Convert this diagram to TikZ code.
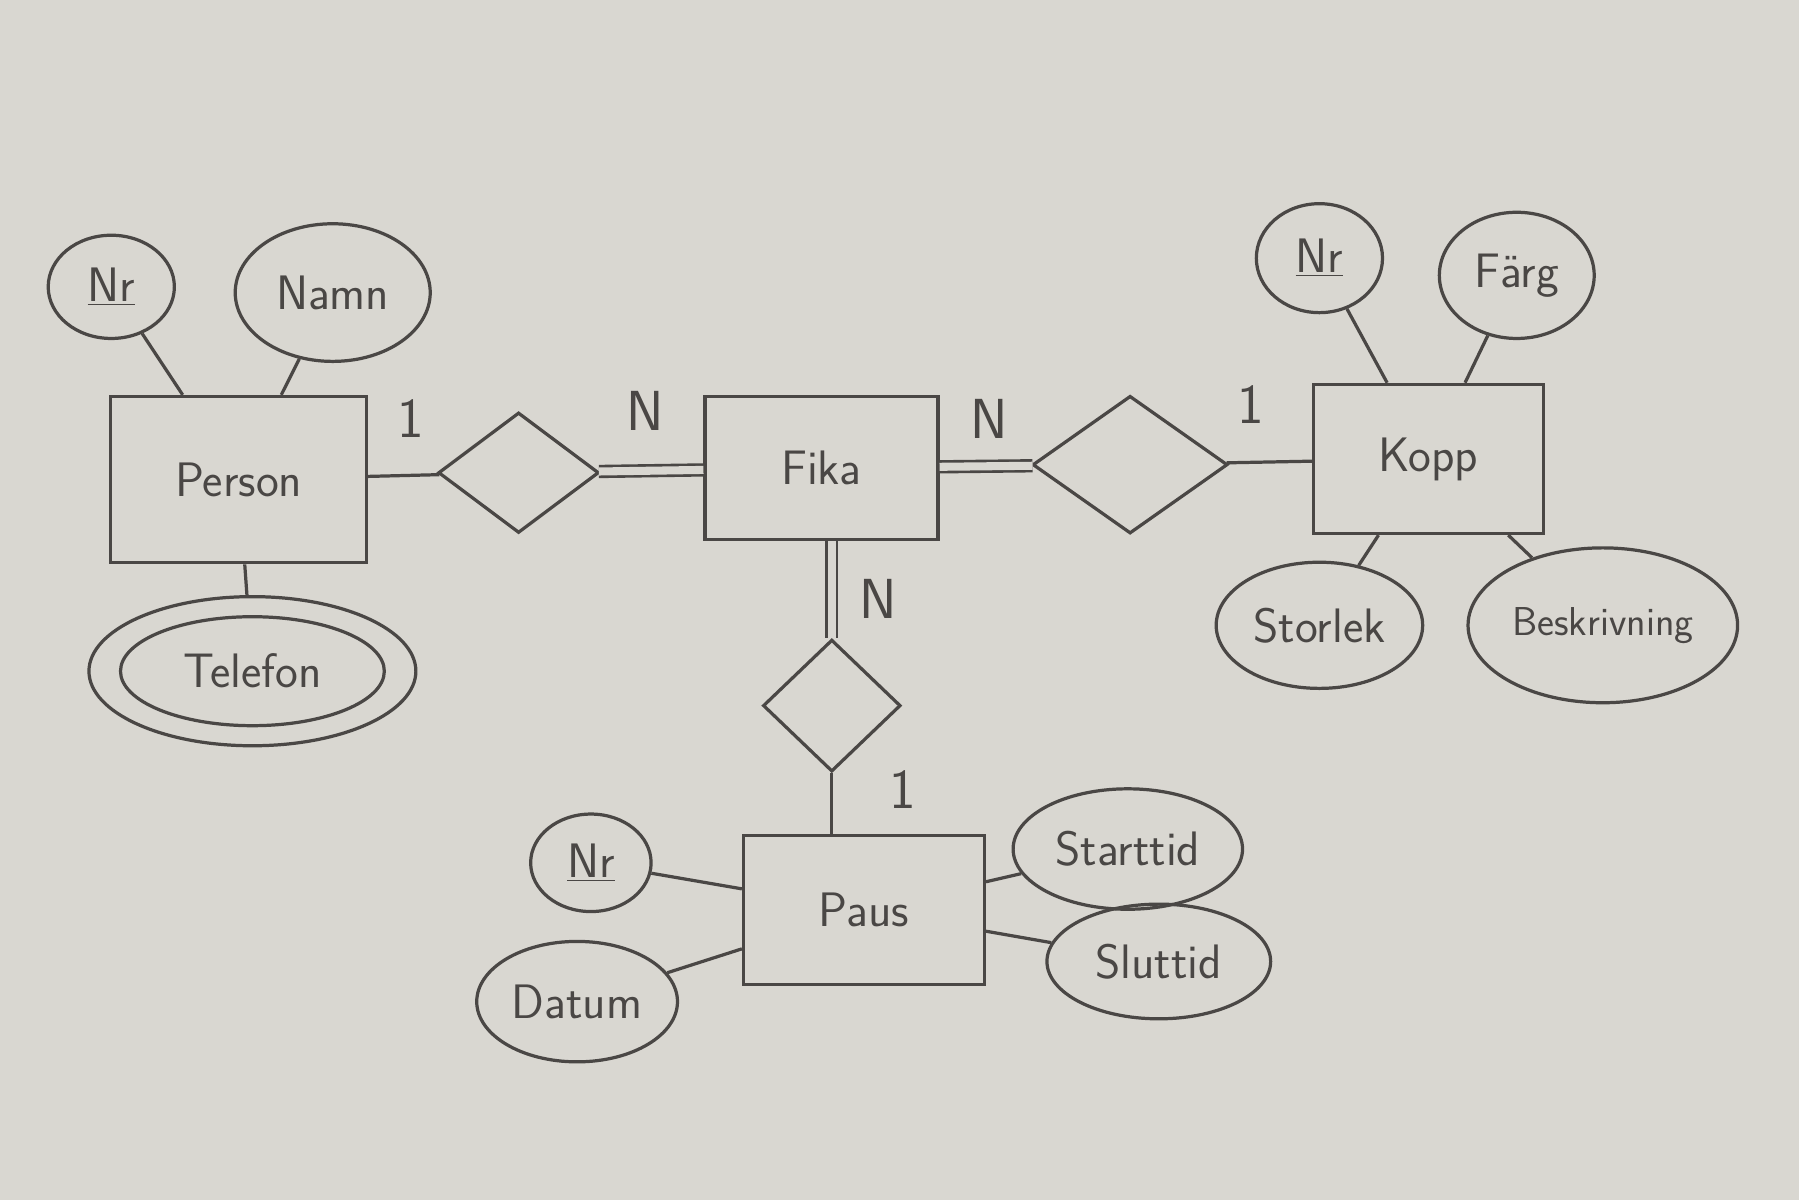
\documentclass[tikz,border=0pt]{standalone}
\usetikzlibrary{shapes.geometric}
\definecolor{bg}{HTML}{D9D7D1}
\definecolor{ink}{HTML}{4A4745}
\begin{document}
\begin{tikzpicture}[x=0.02cm,y=-0.02cm,
  every node/.style={text=ink,font=\sffamily\fontsize{24}{28}\selectfont},
  ent/.style={draw=ink,line width=1.6pt,rectangle,inner sep=0},
  attr/.style={draw=ink,line width=1.6pt,ellipse,inner sep=0},
  rel/.style={draw=ink,line width=1.6pt,diamond,inner sep=0},
  ln/.style={draw=ink,line width=1.6pt},
  dbl/.style={draw=ink,line width=1.3pt,double=bg,double distance=4pt},
  card/.style={font=\sffamily\fontsize{28}{32}\selectfont}]
\fill[bg] (0,0) rectangle (1568,1046);
\useasboundingbox (0,0) rectangle (1568,1046);
% entities
\node[ent,minimum width=4.46cm,minimum height=2.9cm] (person) at (208,418) {Person};
\node[ent,minimum width=4.06cm,minimum height=2.5cm] (fika) at (716,408) {Fika};
\node[ent,minimum width=4.0cm,minimum height=2.6cm] (kopp) at (1245,400) {Kopp};
\node[ent,minimum width=4.2cm,minimum height=2.6cm] (paus) at (753,793) {Paus};
% relationships
\node[rel,minimum width=2.8cm,minimum height=2.1cm] (r1) at (452,412) {};
\node[rel,minimum width=3.4cm,minimum height=2.4cm] (r2) at (985,405) {};
\node[rel,minimum width=2.4cm,minimum height=2.3cm] (r3) at (725,615) {};
% attributes Person
\node[attr,minimum width=2.2cm,minimum height=1.8cm] (pnr) at (97,250) {\underline{Nr}};
\node[attr,minimum width=3.4cm,minimum height=2.4cm] (pnamn) at (290,255) {Namn};
\node[attr,minimum width=5.7cm,minimum height=2.6cm] (ptel) at (220,585) {};
\node[attr,minimum width=4.6cm,minimum height=1.9cm] at (220,585) {Telefon};
% Kopp
\node[attr,minimum width=2.2cm,minimum height=1.9cm] (knr) at (1150,225) {\underline{Nr}};
\node[attr,minimum width=2.7cm,minimum height=2.2cm] (kfarg) at (1322,240) {Färg};
\node[attr,minimum width=3.6cm,minimum height=2.2cm] (kstor) at (1150,545) {Storlek};
\node[attr,minimum width=4.7cm,minimum height=2.7cm] (kbesk) at (1397,545) {\fontsize{20}{24}\selectfont Beskrivning};
% Paus
\node[attr,minimum width=2.1cm,minimum height=1.7cm] (anr) at (515,752) {\underline{Nr}};
\node[attr,minimum width=3.5cm,minimum height=2.1cm] (adat) at (503,873) {Datum};
\node[attr,minimum width=4.0cm,minimum height=2.1cm] (astart) at (983,740) {Starttid};
\node[attr,minimum width=3.9cm,minimum height=2.0cm] (aslut) at (1010,838) {Sluttid};
% attribute links
\draw[ln] (pnr) -- (person);
\draw[ln] (pnamn) -- (person);
\draw[ln] (ptel) -- (person);
\draw[ln] (knr) -- (kopp);
\draw[ln] (kfarg) -- (kopp);
\draw[ln] (kstor) -- (kopp);
\draw[ln] (kbesk) -- (kopp);
\draw[ln] (anr) -- (paus);
\draw[ln] (adat) -- (paus);
\draw[ln] (astart) -- (paus);
\draw[ln] (aslut) -- (paus);
% relationship links
\draw[ln] (person) -- (r1);
\draw[dbl] (r1) -- (fika);
\draw[dbl] (fika) -- (r2);
\draw[ln] (r2) -- (kopp);
\draw[dbl] (fika.south -| r3.north) -- (r3.north);
\draw[ln] (r3.south) -- (r3.south |- paus.north);
% cardinalities
\node[card] (c1) at (358,365) {1};
\node[card] (c2) at (562,358) {N};
\node[card] (c3) at (862,365) {N};
\node[card] (c4) at (1090,353) {1};
\node[card] (c5) at (765,522) {N};
\node[card] (c6) at (787,688) {1};
\end{tikzpicture}
\end{document}
